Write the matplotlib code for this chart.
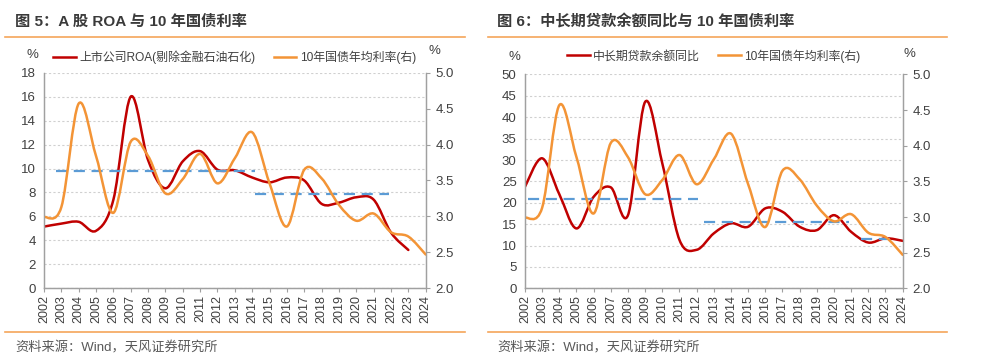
import matplotlib
matplotlib.use("Agg")
import matplotlib.pyplot as plt
from matplotlib.path import Path
from matplotlib.patches import PathPatch
from matplotlib.lines import Line2D
import numpy as np

plt.rcParams['font.family'] = ['Liberation Sans', 'Noto Sans CJK SC', 'DejaVu Sans']
plt.rcParams['axes.unicode_minus'] = False

years = list(range(2002, 2025))

# fig 5
roa = [5.15, 5.4, 5.55, 4.8, 7.4, 16.0, 10.7, 8.35, 10.6, 11.45, 9.9, 9.85,
       9.25, 8.85, 9.25, 9.0, 7.05, 7.15, 7.6, 7.4, 4.65, 3.2]
roa_years = years[:-1]
bond10y = [2.99, 3.13, 4.57, 3.84, 3.05, 4.04, 3.84, 3.32, 3.52, 3.87, 3.46,
           3.81, 4.17, 3.46, 2.86, 3.65, 3.53, 3.16, 2.94, 3.04, 2.78, 2.72, 2.47]
roa_avg_x = [(2002.7, 2014.15), (2014.15, 2021.9)]
roa_avg_y = [9.8, 7.9]

# fig 6
loan_yoy = [23.75, 30.4, 22.0, 14.0, 21.4, 23.6, 17.1, 43.6, 29.2, 11.3, 9.0,
            12.85, 15.2, 14.4, 18.7, 17.9, 14.4, 13.6, 17.1, 13.2, 10.7, 11.7, 11.1]
loan_avg_x = [(2002.15, 2012.1), (2012.4, 2020.9), (2021.6, 2023.45)]
loan_avg_y = [20.8, 15.6, 11.5]

RED = '#C00000'
ORANGE = '#F39436'
BLUE = '#5B9BD5'
GRAY_TXT = '#404040'
SPINE = '#A0A0A0'
SEP = '#F5A55A'


def smooth_path(xs, ys):
    # excel-like smoothed line as cubic bezier segments
    pts = np.column_stack([xs, ys]).astype(float)
    n = len(pts)
    verts = [pts[0]]
    codes = [Path.MOVETO]
    for i in range(n - 1):
        p0 = pts[i - 1] if i > 0 else pts[i]
        p1 = pts[i]
        p2 = pts[i + 1]
        p3 = pts[i + 2] if i + 2 < n else pts[i + 1]
        c1 = p1 + (p2 - p0) / 6.0
        c2 = p2 - (p3 - p1) / 6.0
        verts += [c1, c2, p2]
        codes += [Path.CURVE4] * 3
    return Path(verts, codes)


def add_line(ax, xs, ys, color):
    ax.add_patch(PathPatch(smooth_path(xs, ys), fill=False, edgecolor=color,
                           lw=1.8, capstyle='round', joinstyle='round'))


def setup(ax, ax2, ymax, ystep):
    ax.set_xlim(2002, 2024)
    ax.set_ylim(0, ymax)
    ax.set_yticks(np.arange(0, ymax + 0.1, ystep))
    ax.set_xticks(years)
    ax.set_xticklabels([str(y) for y in years], rotation=90, fontsize=9, color=GRAY_TXT)
    ax.tick_params(axis='y', length=0, labelsize=9.5, labelcolor=GRAY_TXT, pad=6)
    ax.tick_params(axis='x', length=3, color=SPINE, pad=2)
    ax.grid(axis='y', linestyle=(0, (2, 2)), color='#D0D0D0', lw=0.8)
    ax.set_axisbelow(True)
    ax2.set_ylim(2.0, 5.0)
    ax2.set_yticks(np.arange(2.0, 5.01, 0.5))
    ax2.set_yticklabels([f'{v:.1f}' for v in np.arange(2.0, 5.01, 0.5)])
    ax2.tick_params(axis='y', length=3, color=SPINE, labelsize=9.5, labelcolor=GRAY_TXT, pad=4)
    for a in (ax, ax2):
        a.spines['top'].set_visible(False)
        for s in ('left', 'right', 'bottom'):
            a.spines[s].set_color(SPINE)
            a.spines[s].set_linewidth(0.9)


def legend(ax, labels, pad):
    ax.legend(handles=[Line2D([], [], color=RED, lw=1.8), Line2D([], [], color=ORANGE, lw=1.8)],
              labels=labels, loc='lower center', bbox_to_anchor=(0.5, 1.0), ncol=2,
              frameon=False, fontsize=8.6, handlelength=1.9, handletextpad=0.3,
              columnspacing=1.5, labelcolor=GRAY_TXT, borderaxespad=pad)


fig = plt.figure(figsize=(9.82, 3.62), dpi=100)

# ---- left panel
ax1 = fig.add_axes([0.0448, 0.2036, 0.3887, 0.5956])
ax1r = ax1.twinx()
setup(ax1, ax1r, 18, 2)
add_line(ax1, roa_years, roa, RED)
add_line(ax1r, years, bond10y, ORANGE)
for (x0, x1), yv in zip(roa_avg_x, roa_avg_y):
    ax1.plot([x0, x1], [yv, yv], color=BLUE, lw=1.6, ls=(0, (5, 3)), zorder=5)
legend(ax1, ['上市公司ROA(剔除金融石油石化)', '10年国债年均利率(右)'], 0.3)

# ---- right panel
ax2 = fig.add_axes([0.5346, 0.2036, 0.3846, 0.5906])
ax2r = ax2.twinx()
setup(ax2, ax2r, 50, 5)
add_line(ax2, years, loan_yoy, RED)
add_line(ax2r, years, bond10y, ORANGE)
for (x0, x1), yv in zip(loan_avg_x, loan_avg_y):
    ax2.plot([x0, x1], [yv, yv], color=BLUE, lw=1.6, ls=(0, (5, 3)), zorder=5)
legend(ax2, ['中长期贷款余额同比', '10年国债年均利率(右)'], 0.6)

# ---- unit labels, titles, separators, sources
fig.text(32 / 982, 1 - 55 / 362, '%', fontsize=9.5, color=GRAY_TXT, ha='center', va='center')
fig.text(434 / 982, 1 - 51 / 362, '%', fontsize=9.5, color=GRAY_TXT, ha='center', va='center')
fig.text(514 / 982, 1 - 57 / 362, '%', fontsize=9.5, color=GRAY_TXT, ha='center', va='center')
fig.text(909 / 982, 1 - 54 / 362, '%', fontsize=9.5, color=GRAY_TXT, ha='center', va='center')

fig.text(15 / 982, 1 - 22 / 362, '图 5：A 股 ROA 与 10 年国债利率', fontsize=11,
         fontweight='bold', color='#3A3A3A', va='center')
fig.text(497 / 982, 1 - 22 / 362, '图 6：中长期贷款余额同比与 10 年国债利率', fontsize=11,
         fontweight='bold', color='#3A3A3A', va='center')

for x0, x1 in [(5, 465), (488, 947)]:
    for yy in (37, 332):
        fig.add_artist(Line2D([x0 / 982, x1 / 982], [1 - yy / 362, 1 - yy / 362],
                              color=SEP, lw=1.2))

fig.text(15 / 982, 1 - 348 / 362, '资料来源：Wind，天风证券研究所', fontsize=9.5,
         color='#595959', va='center')
fig.text(497 / 982, 1 - 348 / 362, '资料来源：Wind，天风证券研究所', fontsize=9.5,
         color='#595959', va='center')

fig.savefig('out.png', dpi=100)
